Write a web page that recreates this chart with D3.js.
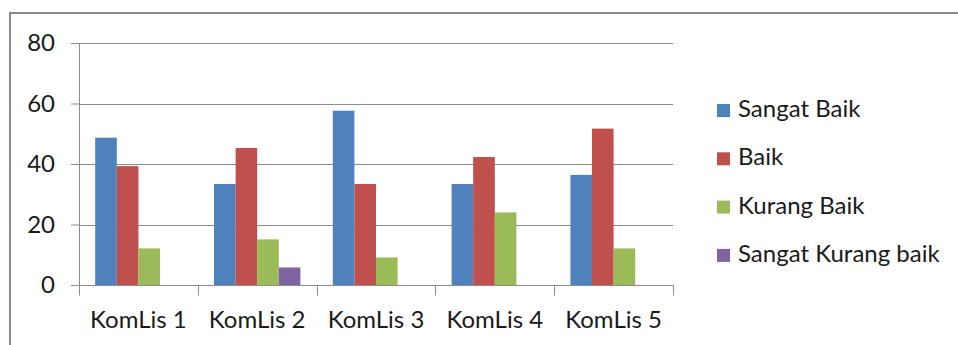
<!DOCTYPE html>
<html>
<head>
<meta charset="utf-8">
<script src="https://cdn.jsdelivr.net/npm/d3@7"></script>
<style>
  html, body { margin: 0; padding: 0; background: #fff; }
  svg { display: block; }
</style>
</head>
<body>
<svg id="chart" width="958" height="345"></svg>
<script>
// Categories, series and axis ticks
const categories = ["KomLis 1", "KomLis 2", "KomLis 3", "KomLis 4", "KomLis 5"];
const seriesNames = ["Sangat Baik", "Baik", "Kurang Baik", "Sangat Kurang baik"];
const sangatBaik = [48.7, 33.4, 57.6, 33.4, 36.4];
const baik = [39.3, 45.3, 33.4, 42.3, 51.7];
const kurangBaik = [12.1, 15.1, 9.1, 24.0, 12.1];
const sangatKurangBaik = [0, 5.8, 0, 0, 0];
const yTicks = [0, 20, 40, 60, 80];
const colors = ["#4F81BD", "#C0504D", "#9BBB59", "#8064A2"];

const seriesValues = [sangatBaik, baik, kurangBaik, sangatKurangBaik];
const FONT = "Lato, 'Open Sans', sans-serif";
const FONT_SIZE = 24;

const svg = d3.select("#chart");

// Outer frame: top and left edges
svg.append("line").attr("x1", 9).attr("x2", 958).attr("y1", 13).attr("y2", 13)
  .attr("stroke", "#8a8a8a").attr("stroke-width", 2);
svg.append("line").attr("x1", 10).attr("x2", 10).attr("y1", 12).attr("y2", 345)
  .attr("stroke", "#8a8a8a").attr("stroke-width", 2);

const plot = { left: 79, right: 673, top: 43, bottom: 285 };

const x = d3.scaleBand().domain(categories).range([plot.left, plot.right]).paddingInner(0).paddingOuter(0);
const y = d3.scaleLinear().domain([0, 80]).range([plot.bottom, plot.top]);

// Excel-style clustered bars with 150% gap
const groupPad = x.bandwidth() * 1.5 / 5.5 / 2;
const xs = d3.scaleBand().domain(d3.range(seriesNames.length))
  .range([groupPad, x.bandwidth() - groupPad]).padding(0);

// Horizontal gridlines
svg.append("g").selectAll("line").data(yTicks.filter(d => d > 0)).join("line")
  .attr("x1", plot.left).attr("x2", plot.right)
  .attr("y1", d => Math.round(y(d)) + 0.5).attr("y2", d => Math.round(y(d)) + 0.5)
  .attr("stroke", "#8c8c8c").attr("stroke-width", 1);

// Bars
const groups = svg.append("g").selectAll("g").data(categories).join("g")
  .attr("transform", c => `translate(${x(c)},0)`);
groups.selectAll("rect")
  .data((c, i) => seriesValues.map((vals, s) => ({ s, v: vals[i] })))
  .join("rect")
  .attr("x", d => xs(d.s))
  .attr("width", xs.bandwidth())
  .attr("y", d => y(d.v))
  .attr("height", d => y(0) - y(d.v))
  .attr("fill", d => colors[d.s]);

// Y axis
const yAxis = svg.append("g").attr("transform", `translate(${plot.left},0)`)
  .call(d3.axisLeft(y).tickValues(yTicks).tickSize(8).tickPadding(16).tickFormat(d3.format("d")));
yAxis.select(".domain").attr("d", `M0.5,${plot.top}V${plot.bottom + 10}`).attr("stroke", "#8c8c8c");
yAxis.selectAll(".tick line").attr("stroke", "#8c8c8c").attr("x1", 0.5).attr("x2", -8);
yAxis.selectAll("text").attr("font-family", FONT).attr("font-size", FONT_SIZE).attr("fill", "#1a1a1a");

// X axis
const xAxis = svg.append("g").attr("transform", `translate(0,${Math.round(y(0)) + 0.5})`)
  .call(d3.axisBottom(x).tickSize(0).tickPadding(25));
xAxis.select(".domain").attr("d", `M${plot.left},0H${plot.right + 1}`).attr("stroke", "#8c8c8c");
xAxis.selectAll(".tick text").attr("font-family", FONT).attr("font-size", FONT_SIZE).attr("fill", "#1a1a1a");
// Category boundary tick marks
const bounds = categories.map(c => x(c)).concat([plot.right]);
xAxis.append("g").selectAll("line").data(bounds).join("line")
  .attr("x1", d => Math.round(d) + 0.5).attr("x2", d => Math.round(d) + 0.5)
  .attr("y1", 0).attr("y2", 10).attr("stroke", "#8c8c8c");

// Legend
const legend = svg.append("g").attr("transform", "translate(717,0)");
const rows = legend.selectAll("g").data(seriesNames).join("g")
  .attr("transform", (d, i) => `translate(0,${117 + i * 48.3})`);
rows.append("rect").attr("x", 0).attr("y", -13).attr("width", 13).attr("height", 13)
  .attr("fill", (d, i) => colors[i]);
rows.append("text").attr("x", 21).attr("y", 0).text(d => d)
  .attr("font-family", FONT).attr("font-size", FONT_SIZE).attr("fill", "#1a1a1a");
</script>
</body>
</html>
